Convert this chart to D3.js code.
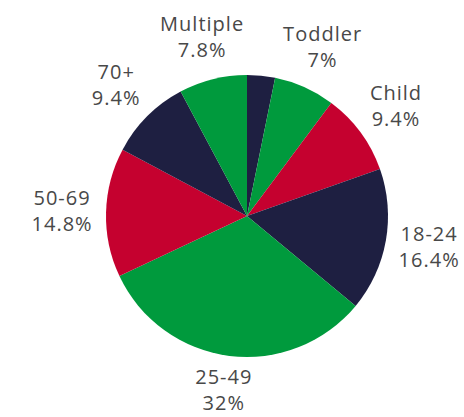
<!doctype html>
<html lang="en">
<head>
  <meta charset="utf-8">
  <title>Pie chart</title>
  <script src="https://d3js.org/d3.v7.min.js"></script>
  <style>
    body { margin: 0; background: #fff; }
    .lbl { font-family: 'Open Sans', sans-serif; font-size: 20px; fill: #484848; letter-spacing: 1px; }
  </style>
</head>
<body>
  <div id="chart"></div>
  <script>
    // slices clockwise from 12 o'clock; the first thin slice has no label
    var groups = ['', 'Toddler', 'Child', '18-24', '25-49', '50-69', '70+', 'Multiple'];
    var shares = [3.2, 7, 9.4, 16.4, 32, 14.8, 9.4, 7.8];
    var sliceColors = ['#1e1f41', '#009a3d', '#c5012f', '#1e1f41', '#009a3d', '#c5012f', '#1e1f41', '#009a3d'];

    var width = 464, height = 417;
    var cx = 247, cy = 216, radius = 141, labelRadius = 185;

    var svg = d3.select('#chart')
      .append('svg')
      .attr('width', width)
      .attr('height', height)
      .append('g')
      .attr('transform', 'translate(' + cx + ',' + cy + ')');

    var data = groups.map(function(g, i) { return {group: g, value: shares[i], color: sliceColors[i]}; });

    var pie = d3.pie().sort(null).value(function(d) { return d.value; });
    var arc = d3.arc().innerRadius(0).outerRadius(radius);
    var labelArc = d3.arc().innerRadius(labelRadius).outerRadius(labelRadius);

    var slices = pie(data);

    svg.selectAll('path.slice')
      .data(slices)
      .enter().append('path')
      .attr('class', 'slice')
      .attr('d', arc)
      .attr('fill', function(d) { return d.data.color; });

    // two-line labels outside the pie, pulled in a little below the centre
    var labels = svg.selectAll('text.lbl')
      .data(slices.filter(function(d) { return d.data.group !== ''; }))
      .enter().append('text')
      .attr('class', 'lbl')
      .attr('text-anchor', 'middle')
      .attr('transform', function(d) {
        var c = labelArc.centroid(d);
        if (c[1] > 0) c[1] -= 10 * c[1] / labelRadius;
        return 'translate(' + c + ')';
      });

    labels.append('tspan')
      .attr('x', 0)
      .attr('y', -6)
      .text(function(d) { return d.data.group; });

    labels.append('tspan')
      .attr('x', 0)
      .attr('y', 20)
      .text(function(d) { return d.data.value + '%'; });
  </script>
</body>
</html>
